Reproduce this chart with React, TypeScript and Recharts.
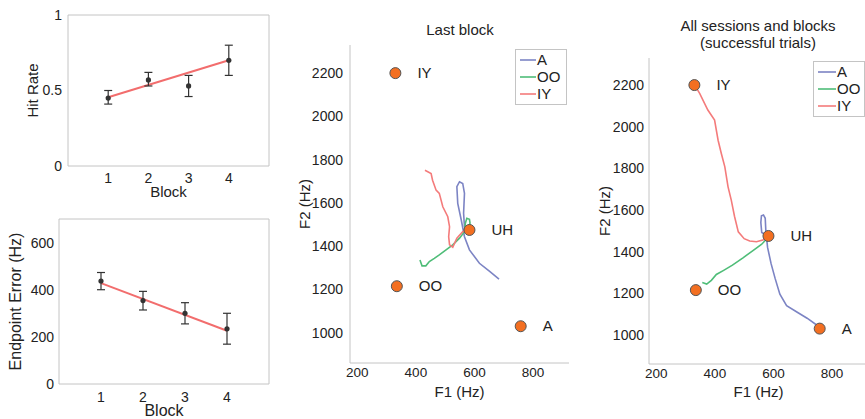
import {
  ComposedChart, Line, Scatter, XAxis, YAxis, ErrorBar, ReferenceArea, Legend
} from 'recharts'

const FONT = '"Liberation Sans", Arial, Helvetica, sans-serif'
const TEXT = '#222'
const BOX = '#c4c4c4'

// left panels: hit rate and endpoint error per block
const blocks = [1, 2, 3, 4]
const blockTicks = [1, 2, 3, 4]

const hitRate = [0.45, 0.57, 0.53, 0.7]
const hitLow = [0.41, 0.53, 0.46, 0.6]
const hitHigh = [0.5, 0.62, 0.6, 0.8]
const hitTicks = [0, 0.5, 1]

const endError = [437, 354, 300, 234]
const endLow = [400, 314, 255, 169]
const endHigh = [473, 393, 345, 300]
const endTicks = [0, 200, 400, 600]

// regression lines, at block 1 and block 4
const fitBlocks = [1, 4]
const hitFit = [0.455, 0.7]
const endFit = [428, 226]

// vowel targets
const vowelNames = ['IY', 'OO', 'A', 'UH']
const vowelF1 = [330, 335, 758, 583]
const vowelF2 = [2200, 1215, 1030, 1475]

const f1Ticks = [200, 400, 600, 800]
const f2Ticks = [1000, 1200, 1400, 1600, 1800, 2000, 2200]

const trackNames = ['A', 'OO', 'IY']
const trackColors = ['#7c84c4', '#4fbd78', '#f47b7b']

// trajectories [F1, F2], last block
const lastA = [
  [566, 1490], [563, 1552], [566, 1644], [560, 1690], [549, 1698], [540, 1675],
  [543, 1598], [555, 1521], [566, 1444], [583, 1383], [617, 1321], [652, 1283], [684, 1248]
]
const lastOO = [
  [414, 1336], [421, 1309], [434, 1309], [446, 1329], [463, 1344], [480, 1360],
  [503, 1383], [526, 1406], [549, 1437], [566, 1467], [569, 1506], [574, 1529],
  [583, 1524], [585, 1506], [577, 1483]
]
const lastIY = [
  [431, 1751], [452, 1736], [457, 1705], [469, 1659], [480, 1644], [492, 1582],
  [509, 1536], [515, 1490], [512, 1444], [515, 1406], [526, 1395], [532, 1413],
  [540, 1437], [560, 1467], [577, 1478]
]

// trajectories [F1, F2], all sessions and blocks
const allA = [
  [583, 1473], [560, 1492], [557, 1540], [559, 1572], [566, 1576], [572, 1560],
  [574, 1500], [580, 1420], [592, 1342], [606, 1270], [622, 1195], [645, 1140],
  [680, 1110], [715, 1080], [750, 1045]
]
const allOO = [
  [357, 1251], [372, 1244], [388, 1262], [405, 1290], [430, 1310], [460, 1335],
  [496, 1370], [530, 1405], [559, 1434], [580, 1465]
]
const allIY = [
  [331, 2200], [348, 2160], [376, 2080], [399, 2032], [411, 1935], [422, 1871],
  [434, 1807], [445, 1711], [456, 1647], [467, 1570], [480, 1495], [500, 1462],
  [519, 1451], [542, 1447], [564, 1456], [583, 1473]
]

const toPts = (arr: number[][]) => arr.map(([x, y]) => ({ x, y }))

const vowelData = vowelNames.map((name, i) => ({ name, x: vowelF1[i], y: vowelF2[i] }))

function ErrDot(props: any) {
  return <circle cx={props.cx} cy={props.cy} r={2.6} fill="#333" />
}

function VowelDot(props: any) {
  const { cx, cy, payload } = props
  return (
    <g>
      <circle cx={cx} cy={cy} r={5.5} fill="#f36f21" stroke="#555" strokeWidth={1} />
      <text x={cx + 22} y={cy + 5} fontSize={15} fill={TEXT}>{payload.name}</text>
    </g>
  )
}

function TrackLegend({ lineLen }: { lineLen: number }) {
  return (
    <div style={{
      border: `1px solid ${BOX}`, background: '#fff', width: 52,
      padding: '1px 0 2px 4px', boxSizing: 'border-box', fontFamily: FONT
    }}>
      {trackNames.map((n, i) => (
        <div key={n} style={{ height: 17, display: 'flex', alignItems: 'center' }}>
          <svg width={lineLen} height={4}>
            <line x1={0} y1={2} x2={lineLen} y2={2} stroke={trackColors[i]} strokeWidth={1.6} />
          </svg>
          <span style={{ fontSize: 15, color: TEXT, marginLeft: 1, lineHeight: '17px' }}>{n}</span>
        </div>
      ))}
    </div>
  )
}

interface BlockPanelProps {
  top: number
  height: number
  marginTop: number
  yWidth: number
  xHeight: number
  values: number[]
  low: number[]
  high: number[]
  fit: number[]
  yDomain: [number, number]
  yTicks: number[]
  yLabel: string
  labelSize: number
  yLabelX: number
  yTickMargin: number
  xTickMargin: number
  xLabelOffset: number
}

function BlockPanel(p: BlockPanelProps) {
  const data = blocks.map((b, i) => ({
    x: b, y: p.values[i], err: [p.values[i] - p.low[i], p.high[i] - p.values[i]]
  }))
  const fitData = fitBlocks.map((b, i) => ({ x: b, y: p.fit[i] }))
  return (
    <div style={{ position: 'absolute', left: 0, top: p.top }}>
      <ComposedChart width={280} height={p.height} margin={{ top: p.marginTop, right: 11, bottom: 0, left: 0 }}>
        <XAxis type="number" dataKey="x" domain={[0, 5]} ticks={blockTicks} allowDataOverflow
          axisLine={false} tickLine={false} tickSize={0} tickMargin={p.xTickMargin} height={p.xHeight}
          tick={{ fontSize: 14, fill: TEXT }}
          label={{ value: 'Block', position: 'insideBottom', offset: p.xLabelOffset, fontSize: p.labelSize, fill: TEXT }} />
        <YAxis type="number" dataKey="y" domain={p.yDomain} ticks={p.yTicks} allowDataOverflow
          axisLine={false} tickLine={false} tickSize={0} tickMargin={p.yTickMargin} width={p.yWidth}
          tick={{ fontSize: 14, fill: TEXT }}
          label={{ value: p.yLabel, angle: -90, position: 'insideLeft', offset: p.yLabelX, fontSize: p.labelSize, fill: TEXT, style: { textAnchor: 'middle' } }} />
        <ReferenceArea x1={0} x2={5} y1={p.yDomain[0]} y2={p.yDomain[1]} fill="none" stroke={BOX} strokeWidth={1} fillOpacity={0} />
        <Line data={fitData} dataKey="y" type="linear" stroke="#f26d6d" strokeWidth={2} dot={false} isAnimationActive={false} />
        <Scatter data={data} dataKey="y" shape={ErrDot} isAnimationActive={false}>
          <ErrorBar dataKey="err" direction="y" width={4} stroke="#333" strokeWidth={1.2} />
        </Scatter>
      </ComposedChart>
    </div>
  )
}

interface FormantPanelProps {
  left: number
  marginTop: number
  marginRight: number
  yWidth: number
  xHeight: number
  yTickMargin: number
  xTickMargin: number
  tracks: number[][][]
  legendLeft: number
  legendTop: number
  legendLine: number
}

function FormantPanel(p: FormantPanelProps) {
  return (
    <div style={{ position: 'absolute', left: p.left, top: 0 }}>
      <ComposedChart width={300} height={419} margin={{ top: p.marginTop, right: p.marginRight, bottom: 0, left: 0 }}>
        <XAxis type="number" dataKey="x" domain={[175, 923]} ticks={f1Ticks} allowDataOverflow
          axisLine={{ stroke: BOX }} tickLine={false} tickSize={0} tickMargin={p.xTickMargin} height={p.xHeight}
          tick={{ fontSize: 13.5, fill: TEXT }}
          label={{ value: 'F1 (Hz)', position: 'insideBottom', offset: 22, fontSize: 15, fill: TEXT }} />
        <YAxis type="number" dataKey="y" domain={[860, 2330]} ticks={f2Ticks} allowDataOverflow
          axisLine={{ stroke: BOX }} tickLine={false} tickSize={0} tickMargin={p.yTickMargin} width={p.yWidth}
          tick={{ fontSize: 14, fill: TEXT }}
          label={{ value: 'F2 (Hz)', angle: -90, position: 'insideLeft', offset: 25, fontSize: 15, fill: TEXT, style: { textAnchor: 'middle' } }} />
        {p.tracks.map((t, i) => (
          <Line key={trackNames[i]} name={trackNames[i]} data={toPts(t)} dataKey="y" type="linear"
            stroke={trackColors[i]} strokeWidth={1.6} dot={false} isAnimationActive={false} />
        ))}
        <Scatter data={vowelData} dataKey="y" shape={VowelDot} isAnimationActive={false} legendType="none" />
        <Legend layout="vertical" align="center" verticalAlign="middle"
          wrapperStyle={{ left: p.legendLeft, top: p.legendTop, width: 'auto', height: 'auto' }}
          content={() => <TrackLegend lineLen={p.legendLine} />} />
      </ComposedChart>
    </div>
  )
}

function Title({ cx, top, lines }: { cx: number; top: number; lines: string[] }) {
  return (
    <div style={{
      position: 'absolute', left: cx - 120, top, width: 240, textAlign: 'center',
      fontSize: 15, lineHeight: '17px', color: TEXT, fontFamily: FONT
    }}>
      {lines.map(l => <div key={l}>{l}</div>)}
    </div>
  )
}

export default function App() {
  return (
    <div style={{
      position: 'absolute', left: 0, top: 0, width: 865, height: 419,
      overflow: 'hidden', background: '#fff', fontFamily: FONT
    }}>
      <BlockPanel top={0} height={200} marginTop={15} yWidth={68} xHeight={34}
        values={hitRate} low={hitLow} high={hitHigh} fit={hitFit}
        yDomain={[0, 1]} yTicks={hitTicks} yLabel="Hit Rate" labelSize={15} yLabelX={33}
        yTickMargin={6} xTickMargin={7} xLabelOffset={3} />
      <BlockPanel top={200} height={219} marginTop={19} yWidth={59} xHeight={35}
        values={endError} low={endLow} high={endHigh} fit={endFit}
        yDomain={[0, 700]} yTicks={endTicks} yLabel="Endpoint Error (Hz)" labelSize={16} yLabelX={15}
        yTickMargin={5} xTickMargin={8} xLabelOffset={3.5} />
      <FormantPanel left={280} marginTop={45} marginRight={11} yWidth={70} xHeight={56}
        yTickMargin={7} xTickMargin={4} tracks={[lastA, lastOO, lastIY]}
        legendLeft={235} legendTop={49} legendLine={16} />
      <FormantPanel left={580} marginTop={58} marginRight={12} yWidth={69} xHeight={55}
        yTickMargin={5} xTickMargin={4} tracks={[allA, allOO, allIY]}
        legendLeft={233} legendTop={61} legendLine={18} />
      <Title cx={460} top={21} lines={['Last block']} />
      <Title cx={758} top={17} lines={['All sessions and blocks', '(successful trials)']} />
    </div>
  )
}
